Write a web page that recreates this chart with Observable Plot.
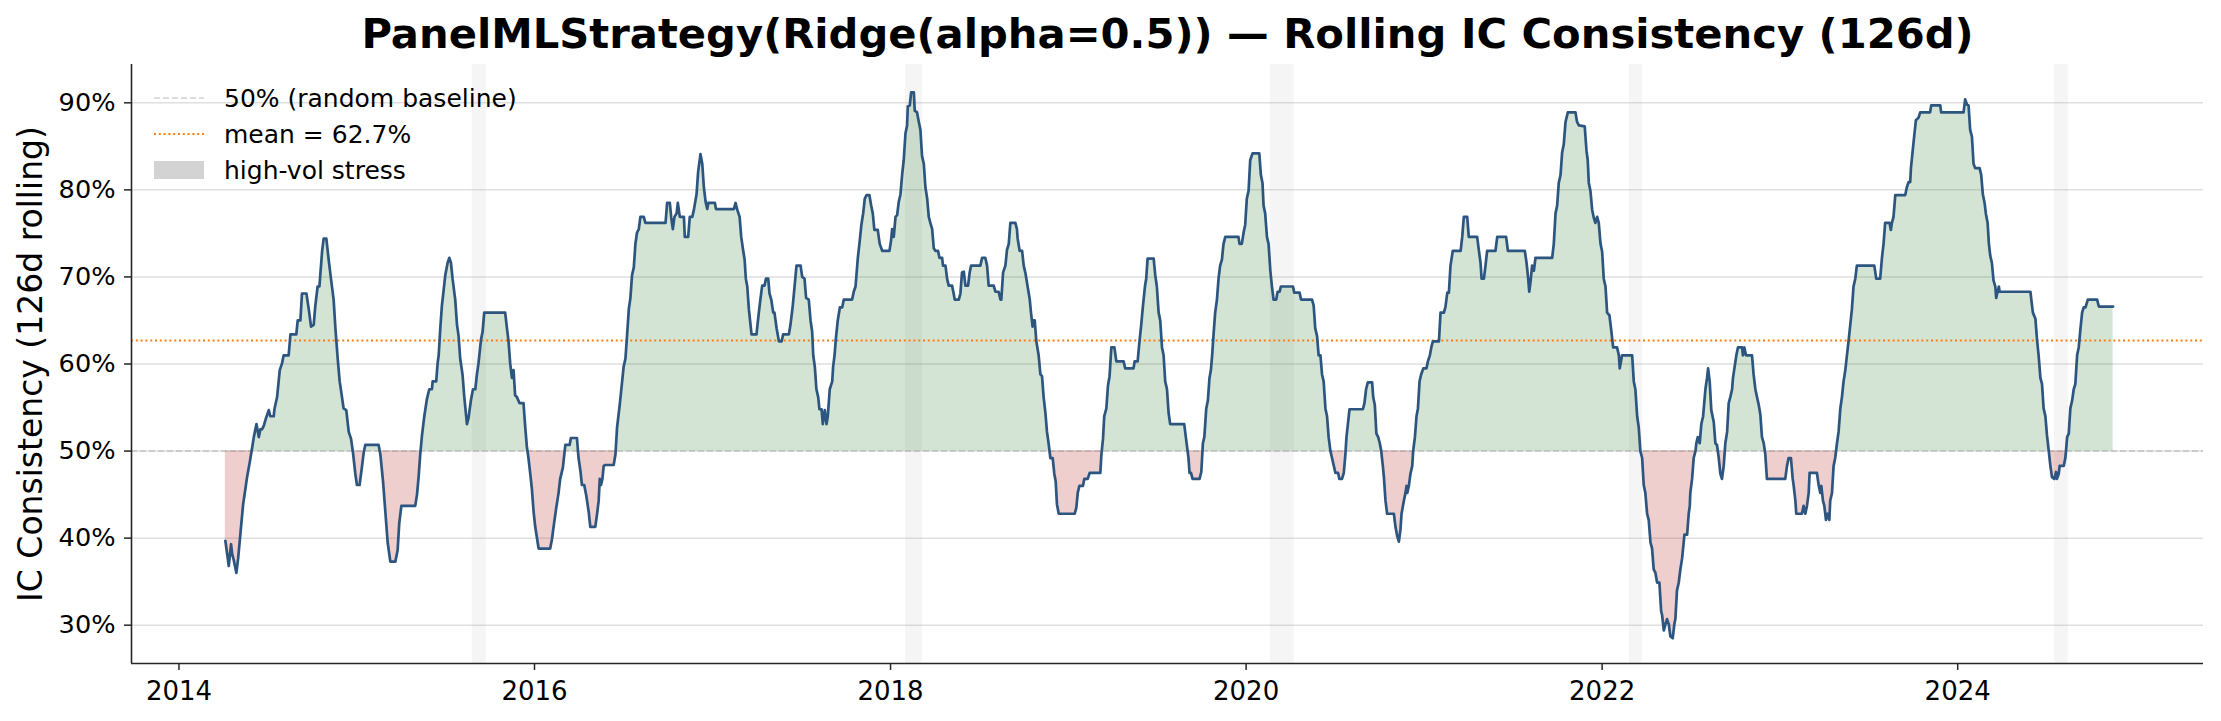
<!DOCTYPE html>
<html><head><meta charset="utf-8">
<script src="https://cdn.jsdelivr.net/npm/d3@7"></script>
<script src="https://cdn.jsdelivr.net/npm/@observablehq/plot@0.6"></script>
<style>
html,body{margin:0;padding:0;background:#fff;}
#chart{position:relative;width:2221px;height:721px;font-family:"DejaVu Sans",sans-serif;}
#legend{position:absolute;left:154px;top:80px;font-size:25px;color:#000;font-family:"DejaVu Sans",sans-serif;}
#legend .row{display:flex;align-items:center;height:36px;white-space:nowrap;}
#legend svg{margin-right:20px;display:block;}
</style></head><body><div id="chart"></div>
<script>
const titleText = "PanelMLStrategy(Ridge(alpha=0.5)) — Rolling IC Consistency (126d)";
const yLabel = "IC Consistency (126d rolling)";
const baseline = 50;
const meanIC = 62.7;
const yTicks = [30, 40, 50, 60, 70, 80, 90];
const xTickYears = [2014, 2016, 2018, 2020, 2022, 2024];
const xDomainYears = [2013.733, 2025.38];
const yDomain = [25.6, 94.4];
const stressStart = [2015.650, 2018.084, 2020.136, 2022.154, 2024.543];
const stressEnd   = [2015.729, 2018.179, 2020.270, 2022.227, 2024.621];
const legendLabels = ["50% (random baseline)", "mean = " + meanIC + "%", "high-vol stress"];
// [fractional year, rolling IC consistency %]
const icSeries = [
[2014.261,39.7],[2014.271,38.2],[2014.280,36.8],[2014.293,39.3],[2014.299,38.2],[2014.308,37.5],[2014.323,36.0],[2014.333,37.7],
[2014.346,40.6],[2014.361,43.9],[2014.374,45.7],[2014.383,47.0],[2014.398,48.7],[2014.411,50.3],[2014.421,51.6],[2014.436,53.1],
[2014.449,51.6],[2014.458,52.5],[2014.467,52.5],[2014.477,52.9],[2014.490,53.8],[2014.505,54.7],[2014.514,54.0],[2014.533,54.0],
[2014.537,54.8],[2014.552,56.2],[2014.567,59.3],[2014.580,60.1],[2014.589,61.0],[2014.617,61.0],[2014.627,63.4],[2014.660,63.4],
[2014.668,65.0],[2014.683,65.0],[2014.692,68.1],[2014.717,68.1],[2014.730,66.3],[2014.743,64.3],[2014.758,64.5],[2014.767,66.7],
[2014.780,68.9],[2014.790,68.9],[2014.805,72.9],[2014.814,74.4],[2014.829,74.4],[2014.842,72.0],[2014.855,69.8],[2014.870,67.4],
[2014.880,64.1],[2014.893,60.6],[2014.904,58.0],[2014.917,56.2],[2014.926,54.9],[2014.941,54.7],[2014.955,52.2],[2014.968,51.4],
[2014.979,49.8],[2014.992,47.4],[2015.001,46.1],[2015.016,46.1],[2015.030,48.3],[2015.039,49.8],[2015.048,50.7],[2015.123,50.7],
[2015.133,49.6],[2015.148,46.5],[2015.161,43.0],[2015.174,39.5],[2015.189,37.3],[2015.217,37.3],[2015.230,38.6],[2015.239,41.7],
[2015.251,43.7],[2015.329,43.7],[2015.339,45.0],[2015.348,47.0],[2015.357,49.6],[2015.367,51.8],[2015.380,54.0],[2015.395,56.0],
[2015.408,57.1],[2015.423,57.1],[2015.427,58.0],[2015.447,58.0],[2015.455,60.1],[2015.461,61.0],[2015.470,64.1],[2015.479,66.7],
[2015.489,68.5],[2015.498,70.2],[2015.511,71.6],[2015.521,72.2],[2015.530,71.6],[2015.539,69.8],[2015.554,67.4],[2015.564,64.5],
[2015.573,63.2],[2015.582,60.6],[2015.595,58.8],[2015.605,56.2],[2015.620,53.1],[2015.629,53.8],[2015.642,55.8],[2015.654,57.1],
[2015.667,57.1],[2015.676,58.8],[2015.685,60.1],[2015.699,62.8],[2015.708,63.7],[2015.717,65.9],[2015.835,65.9],[2015.845,64.1],
[2015.854,62.6],[2015.863,60.1],[2015.873,58.4],[2015.882,59.3],[2015.891,56.4],[2015.901,56.2],[2015.916,55.5],[2015.938,55.5],
[2015.948,52.7],[2015.957,50.5],[2015.966,49.2],[2015.976,47.4],[2015.985,45.7],[2015.995,43.0],[2016.004,41.3],[2016.023,38.8],
[2016.088,38.8],[2016.098,39.9],[2016.107,41.3],[2016.122,43.5],[2016.135,45.2],[2016.144,46.8],[2016.159,48.1],[2016.167,49.6],
[2016.173,50.7],[2016.197,50.7],[2016.204,51.5],[2016.238,51.5],[2016.247,49.2],[2016.257,47.8],[2016.266,46.1],[2016.279,46.1],
[2016.291,44.8],[2016.304,43.0],[2016.313,41.3],[2016.341,41.3],[2016.351,42.8],[2016.360,44.3],[2016.366,46.8],[2016.373,46.1],
[2016.381,46.8],[2016.388,48.3],[2016.397,48.4],[2016.444,48.4],[2016.454,49.6],[2016.463,52.7],[2016.478,55.3],
[2016.500,59.7],[2016.510,60.6],[2016.519,63.2],[2016.529,66.3],[2016.538,67.6],[2016.547,70.2],[2016.557,71.1],[2016.566,73.8],
[2016.575,75.1],[2016.585,75.5],[2016.594,76.9],[2016.613,76.9],[2016.622,76.2],[2016.735,76.2],[2016.744,78.5],[2016.759,78.5],
[2016.767,76.8],[2016.776,75.5],[2016.785,76.9],[2016.797,77.3],[2016.804,78.5],[2016.815,76.9],[2016.838,76.9],[2016.843,74.6],
[2016.862,74.6],[2016.871,76.9],[2016.885,76.9],[2016.894,77.7],[2016.909,79.5],[2016.918,82.1],[2016.931,84.1],[2016.941,83.0],
[2016.950,80.3],[2016.960,78.6],[2016.969,77.8],[2016.975,78.5],[2017.012,78.5],[2017.018,77.8],[2017.119,77.8],[2017.128,78.5],
[2017.138,77.7],[2017.151,76.9],[2017.160,74.6],[2017.169,73.3],[2017.179,72.0],[2017.186,69.8],[2017.194,68.9],[2017.203,66.3],
[2017.218,63.4],[2017.246,63.4],[2017.250,64.2],[2017.259,65.9],[2017.269,67.6],[2017.278,69.0],[2017.291,69.0],[2017.299,69.8],
[2017.312,69.8],[2017.319,68.1],[2017.329,67.4],[2017.340,65.9],[2017.347,65.9],[2017.359,64.1],[2017.372,62.6],[2017.387,62.6],
[2017.396,63.4],[2017.428,63.4],[2017.437,64.5],[2017.450,66.7],[2017.460,68.9],[2017.471,71.3],[2017.494,71.3],[2017.503,70.0],
[2017.516,69.8],[2017.525,67.6],[2017.540,67.4],[2017.550,65.0],[2017.559,63.7],[2017.565,61.0],[2017.574,59.7],[2017.583,57.1],
[2017.593,56.2],[2017.600,54.8],[2017.612,54.8],[2017.619,53.1],[2017.630,54.7],[2017.640,53.1],[2017.647,54.0],[2017.658,57.1],
[2017.672,58.0],[2017.677,59.7],[2017.685,61.0],[2017.692,62.8],[2017.703,65.0],[2017.715,66.5],[2017.728,66.5],[2017.737,67.4],
[2017.784,67.4],[2017.793,68.3],[2017.803,68.9],[2017.816,72.2],[2017.827,74.2],[2017.836,76.0],[2017.846,77.3],[2017.855,79.0],
[2017.865,79.4],[2017.881,79.4],[2017.891,78.2],[2017.900,77.3],[2017.909,75.4],[2017.928,75.4],[2017.939,73.8],[2017.953,73.0],
[2017.994,73.0],[2018.003,74.2],[2018.009,75.5],[2018.018,74.6],[2018.028,76.9],[2018.037,77.1],[2018.046,78.6],[2018.056,79.5],
[2018.065,81.7],[2018.074,83.4],[2018.084,86.5],[2018.093,87.4],[2018.097,89.6],[2018.108,89.7],[2018.116,91.2],[2018.131,91.2],
[2018.136,89.1],[2018.149,88.9],[2018.159,87.8],[2018.168,86.9],[2018.177,83.9],[2018.187,83.0],[2018.196,80.3],[2018.206,79.0],
[2018.215,76.9],[2018.224,76.2],[2018.234,75.5],[2018.243,73.3],[2018.252,73.0],[2018.267,73.0],[2018.275,72.2],[2018.290,72.2],
[2018.295,71.3],[2018.309,71.3],[2018.318,69.8],[2018.327,69.0],[2018.346,69.0],[2018.355,68.1],[2018.361,67.4],[2018.384,67.4],
[2018.393,68.1],[2018.402,70.5],[2018.412,70.6],[2018.421,69.0],[2018.436,69.0],[2018.445,70.5],[2018.453,71.3],[2018.505,71.3],
[2018.515,72.2],[2018.533,72.2],[2018.543,71.3],[2018.552,69.0],[2018.580,69.0],[2018.590,68.3],[2018.608,68.3],[2018.618,67.4],
[2018.623,67.4],[2018.633,70.5],[2018.646,71.3],[2018.655,73.1],[2018.665,73.8],[2018.674,76.2],[2018.702,76.2],[2018.711,75.5],
[2018.715,74.4],[2018.726,73.0],[2018.740,73.0],[2018.749,71.3],[2018.758,70.5],[2018.764,69.8],[2018.771,68.9],[2018.783,67.4],
[2018.790,65.9],[2018.799,64.3],[2018.805,65.0],[2018.811,65.0],[2018.820,62.6],[2018.833,61.0],
[2018.843,58.8],[2018.852,58.6],[2018.861,56.2],[2018.871,54.4],[2018.880,52.2],[2018.889,50.9],[2018.899,49.2],[2018.912,49.2],
[2018.921,47.4],[2018.929,46.5],[2018.936,43.9],[2018.946,42.8],[2019.036,42.8],[2019.045,43.5],[2019.053,45.2],[2019.062,46.0],
[2019.082,46.0],[2019.090,46.8],[2019.109,46.8],[2019.120,47.5],[2019.180,47.5],[2019.186,49.6],[2019.195,51.4],[2019.202,54.0],
[2019.214,54.9],[2019.223,57.5],[2019.232,58.6],[2019.242,61.9],[2019.259,61.9],[2019.270,60.3],[2019.311,60.3],[2019.320,59.5],
[2019.367,59.5],[2019.373,60.3],[2019.390,60.3],[2019.399,62.3],[2019.410,64.5],[2019.420,66.7],[2019.431,68.9],[2019.438,69.8],
[2019.446,72.1],[2019.480,72.1],[2019.489,70.2],[2019.498,68.9],[2019.508,65.9],[2019.517,65.0],[2019.527,61.9],[2019.536,61.0],
[2019.545,58.0],[2019.555,57.1],[2019.564,54.4],[2019.573,53.1],[2019.652,53.1],[2019.661,51.6],[2019.671,50.0],[2019.676,49.2],
[2019.682,47.5],[2019.690,47.5],[2019.699,46.8],[2019.738,46.8],[2019.748,47.6],[2019.757,50.9],[2019.765,51.6],[2019.770,53.1],
[2019.776,54.9],[2019.785,55.8],[2019.794,58.4],[2019.802,59.3],[2019.809,61.0],[2019.817,63.4],[2019.826,65.9],[2019.836,67.4],
[2019.845,69.8],[2019.854,71.3],[2019.864,72.0],[2019.873,73.8],[2019.883,74.6],[2019.957,74.6],[2019.963,73.8],[2019.976,73.8],
[2019.986,75.1],[2019.995,76.0],[2020.004,79.0],[2020.014,79.9],[2020.023,83.4],[2020.036,84.2],[2020.074,84.2],[2020.083,81.7],
[2020.092,80.8],[2020.098,78.2],[2020.107,77.3],[2020.117,74.6],[2020.126,73.8],[2020.136,70.7],[2020.145,68.9],[2020.154,67.4],
[2020.169,67.4],[2020.177,68.3],[2020.188,68.3],[2020.195,68.9],[2020.263,68.9],[2020.270,68.2],[2020.300,68.2],[2020.308,67.4],
[2020.370,67.4],[2020.379,66.7],[2020.388,64.1],[2020.398,63.2],[2020.407,61.0],[2020.417,61.0],[2020.426,58.8],[2020.435,58.0],
[2020.445,54.9],[2020.454,54.0],[2020.463,51.6],[2020.473,50.0],[2020.482,49.2],[2020.492,48.3],[2020.501,47.5],[2020.516,47.5],
[2020.523,46.8],[2020.538,46.8],[2020.548,47.5],[2020.557,49.6],[2020.563,51.6],[2020.570,52.9],[2020.580,54.8],[2020.655,54.8],
[2020.664,55.5],[2020.673,57.1],[2020.683,57.9],[2020.707,57.9],[2020.713,56.2],[2020.722,55.3],[2020.731,52.0],[2020.741,51.6],
[2020.750,50.9],[2020.758,50.0],[2020.767,48.3],[2020.773,47.0],[2020.782,44.3],[2020.791,42.8],[2020.829,42.8],[2020.838,41.3],
[2020.848,40.2],[2020.857,39.6],[2020.866,41.0],[2020.872,42.8],[2020.885,44.3],[2020.894,45.2],[2020.900,46.0],[2020.904,45.2],
[2020.913,46.0],[2020.922,47.4],[2020.932,48.3],[2020.937,50.0],[2020.947,51.6],[2020.956,54.0],[2020.964,54.9],[2020.973,58.0],
[2020.982,58.8],[2020.994,59.5],[2021.012,59.5],[2021.020,60.3],[2021.031,61.0],[2021.039,61.9],[2021.048,62.6],[2021.082,62.6],
[2021.091,65.9],[2021.110,65.9],[2021.119,66.6],[2021.129,68.2],[2021.138,68.2],[2021.147,71.3],[2021.160,73.0],[2021.204,73.0],
[2021.213,74.6],[2021.222,76.9],[2021.241,76.9],[2021.250,74.6],[2021.297,74.6],[2021.307,73.0],[2021.316,71.6],[2021.322,69.8],
[2021.335,69.8],[2021.344,71.3],[2021.353,73.0],[2021.400,73.0],[2021.410,74.6],[2021.460,74.6],[2021.470,73.0],[2021.565,73.0],
[2021.575,71.6],[2021.584,69.8],[2021.590,68.3],[2021.597,69.4],[2021.606,71.3],[2021.616,70.7],[2021.625,72.2],[2021.719,72.2],
[2021.728,73.8],[2021.738,77.3],[2021.747,78.2],[2021.756,80.8],[2021.766,81.7],[2021.775,84.3],[2021.784,85.2],[2021.794,87.8],
[2021.807,88.9],[2021.850,88.9],[2021.859,87.8],[2021.869,87.4],[2021.902,87.3],[2021.912,84.5],[2021.919,83.4],[2021.925,80.8],
[2021.934,79.9],[2021.944,77.7],[2021.953,76.8],[2021.962,76.2],[2021.972,76.9],[2021.981,76.2],[2021.991,73.8],[2022.000,72.9],
[2022.009,69.8],[2022.019,68.9],[2022.028,65.9],[2022.041,65.6],[2022.050,64.1],[2022.062,61.9],[2022.084,61.9],[2022.094,61.0],
[2022.099,59.5],[2022.112,61.0],[2022.169,61.0],[2022.178,58.0],[2022.187,57.1],[2022.197,54.0],[2022.206,52.7],[2022.215,50.0],
[2022.225,49.2],[2022.234,46.1],[2022.243,45.2],[2022.253,42.8],[2022.262,42.1],[2022.272,39.5],[2022.281,38.8],[2022.290,36.4],
[2022.300,36.0],[2022.309,34.9],[2022.322,34.9],[2022.332,31.6],[2022.337,31.2],[2022.347,29.4],[2022.356,30.1],[2022.365,30.7],
[2022.375,30.1],[2022.384,28.7],[2022.397,28.5],[2022.406,30.1],[2022.412,30.7],[2022.421,34.0],[2022.431,34.9],[2022.440,36.4],
[2022.450,37.7],[2022.463,40.4],[2022.478,40.4],[2022.487,42.8],[2022.493,43.7],[2022.496,45.2],[2022.506,46.8],[2022.515,49.2],
[2022.525,50.0],[2022.530,50.9],[2022.538,51.6],[2022.549,50.9],[2022.558,53.1],[2022.568,54.0],[2022.581,57.1],[2022.590,58.4],
[2022.596,59.5],[2022.605,58.0],[2022.614,54.7],[2022.628,53.3],[2022.637,50.9],[2022.646,50.7],[2022.656,49.2],[2022.665,47.4],
[2022.674,46.8],[2022.684,48.3],[2022.693,50.9],[2022.703,52.2],[2022.712,55.5],[2022.721,56.2],[2022.731,57.1],[2022.736,58.4],
[2022.744,59.5],[2022.755,61.0],[2022.764,61.9],[2022.787,61.9],[2022.792,61.0],[2022.800,61.9],[2022.809,61.0],[2022.843,61.0],
[2022.852,58.8],[2022.862,57.1],[2022.871,56.2],[2022.881,55.3],[2022.890,54.2],[2022.899,51.6],[2022.909,50.9],[2022.918,49.6],
[2022.927,46.8],[2023.030,46.8],[2023.040,48.3],[2023.049,49.2],[2023.062,49.2],[2023.072,46.8],[2023.077,46.1],[2023.087,44.3],
[2023.092,42.8],[2023.124,42.8],[2023.133,43.7],[2023.143,42.8],[2023.152,43.7],[2023.162,45.2],[2023.167,47.5],[2023.208,47.5],
[2023.218,46.1],[2023.227,45.2],[2023.233,46.0],[2023.242,44.3],[2023.250,43.7],[2023.259,42.1],[2023.268,42.8],[2023.278,42.1],
[2023.283,44.3],[2023.293,45.2],[2023.302,48.3],[2023.311,49.2],[2023.321,50.9],[2023.330,52.2],[2023.340,54.9],[2023.349,56.2],
[2023.358,58.0],[2023.368,59.3],[2023.377,61.0],[2023.386,62.6],
[2023.405,66.3],[2023.414,68.9],[2023.424,69.8],[2023.433,71.3],[2023.531,71.3],[2023.542,69.8],[2023.564,69.8],[2023.574,72.2],
[2023.583,73.8],[2023.592,76.2],[2023.617,76.2],[2023.624,75.4],[2023.630,76.2],[2023.639,76.9],[2023.649,79.4],[2023.705,79.4],
[2023.714,80.3],[2023.724,80.9],[2023.733,80.9],[2023.737,82.5],[2023.746,84.3],[2023.755,86.1],[2023.765,88.0],[2023.780,88.3],
[2023.789,88.9],[2023.845,88.9],[2023.851,89.7],[2023.902,89.7],[2023.907,88.9],[2024.033,88.9],[2024.042,90.4],[2024.052,89.8],
[2024.061,89.7],[2024.070,86.9],[2024.080,86.1],[2024.089,83.0],[2024.098,82.5],[2024.123,82.5],[2024.132,81.7],[2024.141,79.5],
[2024.151,78.5],[2024.158,77.3],[2024.168,76.2],[2024.175,73.8],[2024.183,72.4],[2024.192,71.6],[2024.201,69.6],[2024.211,68.9],
[2024.216,67.6],[2024.224,68.3],[2024.231,68.9],[2024.235,68.3],[2024.408,68.3],[2024.417,66.7],[2024.422,65.9],[2024.436,65.2],
[2024.445,62.8],[2024.454,61.0],[2024.464,58.4],[2024.473,57.7],[2024.482,54.9],[2024.492,54.0],[2024.501,51.8],[2024.511,50.0],
[2024.520,48.3],[2024.529,47.0],[2024.542,46.8],[2024.552,47.6],[2024.557,46.8],[2024.567,47.4],[2024.572,48.3],[2024.595,48.3],
[2024.604,49.2],[2024.614,51.6],[2024.623,52.0],[2024.632,54.9],[2024.642,55.8],[2024.651,57.1],[2024.660,57.7],[2024.670,61.0],
[2024.679,61.9],[2024.689,64.1],[2024.698,65.9],[2024.707,66.5],[2024.717,66.5],[2024.730,67.4],[2024.782,67.4],[2024.792,66.6],
[2024.872,66.6]
];

const toDate = y => {
  const Y = Math.floor(y);
  const a = Date.UTC(Y, 0, 1), b = Date.UTC(Y + 1, 0, 1);
  return new Date(a + (y - Y) * (b - a));
};
const data = icSeries.map(([y, v]) => ({date: toDate(y), v}));
const stress = stressStart.map((s, i) => ({start: toDate(s), end: toDate(stressEnd[i])}));
const xTicks = xTickYears.map(y => new Date(Date.UTC(y, 0, 1)));
const xDomain = xDomainYears.map(toDate);

const spine = "#262626";
const chart = Plot.plot({
  width: 2221, height: 721,
  marginLeft: 131, marginRight: 18, marginTop: 64, marginBottom: 58,
  style: {fontFamily: '"DejaVu Sans", sans-serif', fontSize: "26px", color: "#000", background: "#fff", overflow: "visible"},
  x: {type: "utc", domain: xDomain},
  y: {domain: yDomain},
  marks: [
    Plot.rect(stress, {x1: "start", x2: "end", fill: "#808080", fillOpacity: 0.08}),
    Plot.gridY(yTicks, {stroke: "#b0b0b0", strokeOpacity: 0.4, strokeWidth: 1.5}),
    Plot.areaY(data, {x: "date", y1: () => baseline, y2: d => Math.max(d.v, baseline), fill: "#22782a", fillOpacity: 0.2}),
    Plot.areaY(data, {x: "date", y1: () => baseline, y2: d => Math.min(d.v, baseline), fill: "#b41e1e", fillOpacity: 0.22}),
    Plot.ruleY([baseline], {stroke: "#808080", strokeOpacity: 0.35, strokeWidth: 1.4, strokeDasharray: "6,3"}),
    Plot.ruleY([meanIC], {stroke: "#ff7f0e", strokeWidth: 2, strokeDasharray: "2,2.8"}),
    Plot.line(data, {x: "date", y: "v", stroke: "#2c5580", strokeWidth: 2.7, strokeLinejoin: "round"}),
    Plot.ruleX([xDomain[0]], {stroke: spine, strokeWidth: 1.6}),
    Plot.ruleY([yDomain[0]], {stroke: spine, strokeWidth: 1.6}),
    Plot.axisX({ticks: xTicks, tickFormat: d => String(d.getUTCFullYear()), tickSize: 7, tickPadding: 11, stroke: spine, strokeWidth: 1.5, fontSize: 26, label: null}),
    Plot.axisY({ticks: yTicks, tickFormat: d => d + "%", tickSize: 7, tickPadding: 9, stroke: spine, strokeWidth: 1.5, fontSize: 25.6, label: null}),
    Plot.text([titleText], {frameAnchor: "top", text: d => d, dy: -17, lineAnchor: "bottom", fontSize: 41.7, fontWeight: "bold", fill: "#000"}),
    Plot.text([yLabel], {frameAnchor: "left", text: d => d, rotate: -90, dx: -100, fontSize: 33, textAnchor: "middle", lineAnchor: "middle", fill: "#000"})
  ]
});
const root = document.getElementById("chart");
root.appendChild(chart);

// legend (matplotlib-style, no frame)
const legend = document.createElement("div");
legend.id = "legend";
const swatches = [
  '<svg width="50" height="20"><line x1="0" x2="50" y1="10" y2="10" stroke="#808080" stroke-opacity="0.35" stroke-width="1.4" stroke-dasharray="6,3"/></svg>',
  '<svg width="50" height="20"><line x1="0" x2="50" y1="10" y2="10" stroke="#ff7f0e" stroke-width="2" stroke-dasharray="2,2.8"/></svg>',
  '<svg width="50" height="20"><rect x="0" y="1" width="50" height="18" fill="#d3d3d3"/></svg>'
];
legendLabels.forEach((lab, i) => {
  const row = document.createElement("div");
  row.className = "row";
  row.innerHTML = swatches[i];
  const span = document.createElement("span");
  span.textContent = lab;
  row.appendChild(span);
  legend.appendChild(row);
});
root.appendChild(legend);
</script></body></html>
